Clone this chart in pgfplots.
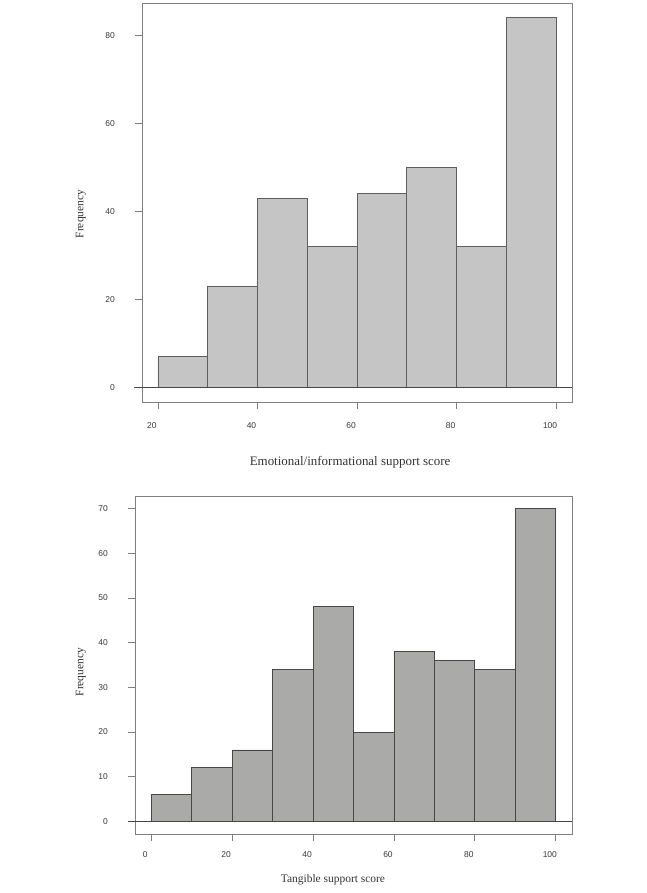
\documentclass[border=0pt]{standalone}
\usepackage{pgfplots}
\pgfplotsset{compat=1.18}
\usepackage{fontspec}
\setmainfont{Liberation Serif}
\newfontfamily\arial{Liberation Sans}
\definecolor{barA}{HTML}{C4C5C4}
\definecolor{barB}{HTML}{AAAAA9}
\definecolor{edgeA}{HTML}{5E5E5E}
\definecolor{edgeB}{HTML}{474747}
\definecolor{boxc}{HTML}{7F7F7F}
\pgfplotsset{
  rhist/.style={
    scale only axis,
    clip=false,
    axis line style={boxc, line width=0.8bp},
    tick style={boxc, line width=0.8bp},
    major tick length=7bp,
    tick align=outside,
    tick pos=left,
    /pgf/number format/assume math mode=true,
    ticklabel style={font=\arial\fontsize{8.5}{10}\selectfont, text=black!78},
    yticklabel style={inner sep=0pt, xshift=-20bp},
    xticklabel style={inner sep=0pt, xshift=-6bp, yshift=-13bp},
    label style={font=\fontsize{11.5}{13}\selectfont, text=black!80},
  }
}
\begin{document}
\begin{tikzpicture}
\path[use as bounding box] (0,0) rectangle (647bp,-893bp);
\begin{axis}[rhist, at={(142bp,-3bp)}, anchor=north west,
  width=430bp, height=399bp,
  xmin=16.8, xmax=103.2, ymin=-3.36, ymax=87.36,
  xtick={20,40,60,80,100}, ytick={0,20,40,60,80},
  xlabel={Emotional/informational support score},
  ylabel={Frequency},
  xlabel style={at={(axis description cs:0.484,-0.150)}, anchor=center, font=\fontsize{13}{15}\selectfont},
  ylabel style={at={(axis description cs:-0.142,0.471)}, anchor=center}]
\addplot[ybar interval, fill=barA, draw=edgeA, line width=0.8bp] coordinates
  {(20,7) (30,23) (40,43) (50,32) (60,44) (70,50) (80,32) (90,84) (100,84)};
\addplot[edgeB, line width=0.8bp] coordinates {(15.2,0) (103.2,0)};
\end{axis}
\begin{axis}[rhist, at={(135bp,-496bp)}, anchor=north west,
  width=437bp, height=338bp,
  xmin=-4, xmax=104, ymin=-2.8, ymax=72.8,
  xtick={0,20,40,60,80,100}, ytick={0,10,20,30,40,50,60,70},
  xticklabel style={yshift=3bp},
  xlabel={Tangible support score},
  ylabel={Frequency},
  xlabel style={at={(axis description cs:0.453,-0.136)}, anchor=center},
  ylabel style={at={(axis description cs:-0.124,0.479)}, anchor=center}]
\addplot[ybar interval, fill=barB, draw=edgeB, line width=0.8bp] coordinates
  {(0,6) (10,12) (20,16) (30,34) (40,48) (50,20) (60,38) (70,36) (80,34) (90,70) (100,70)};
\addplot[edgeB, line width=0.8bp] coordinates {(-5.73,0) (104,0)};
\end{axis}
\end{tikzpicture}
\end{document}
